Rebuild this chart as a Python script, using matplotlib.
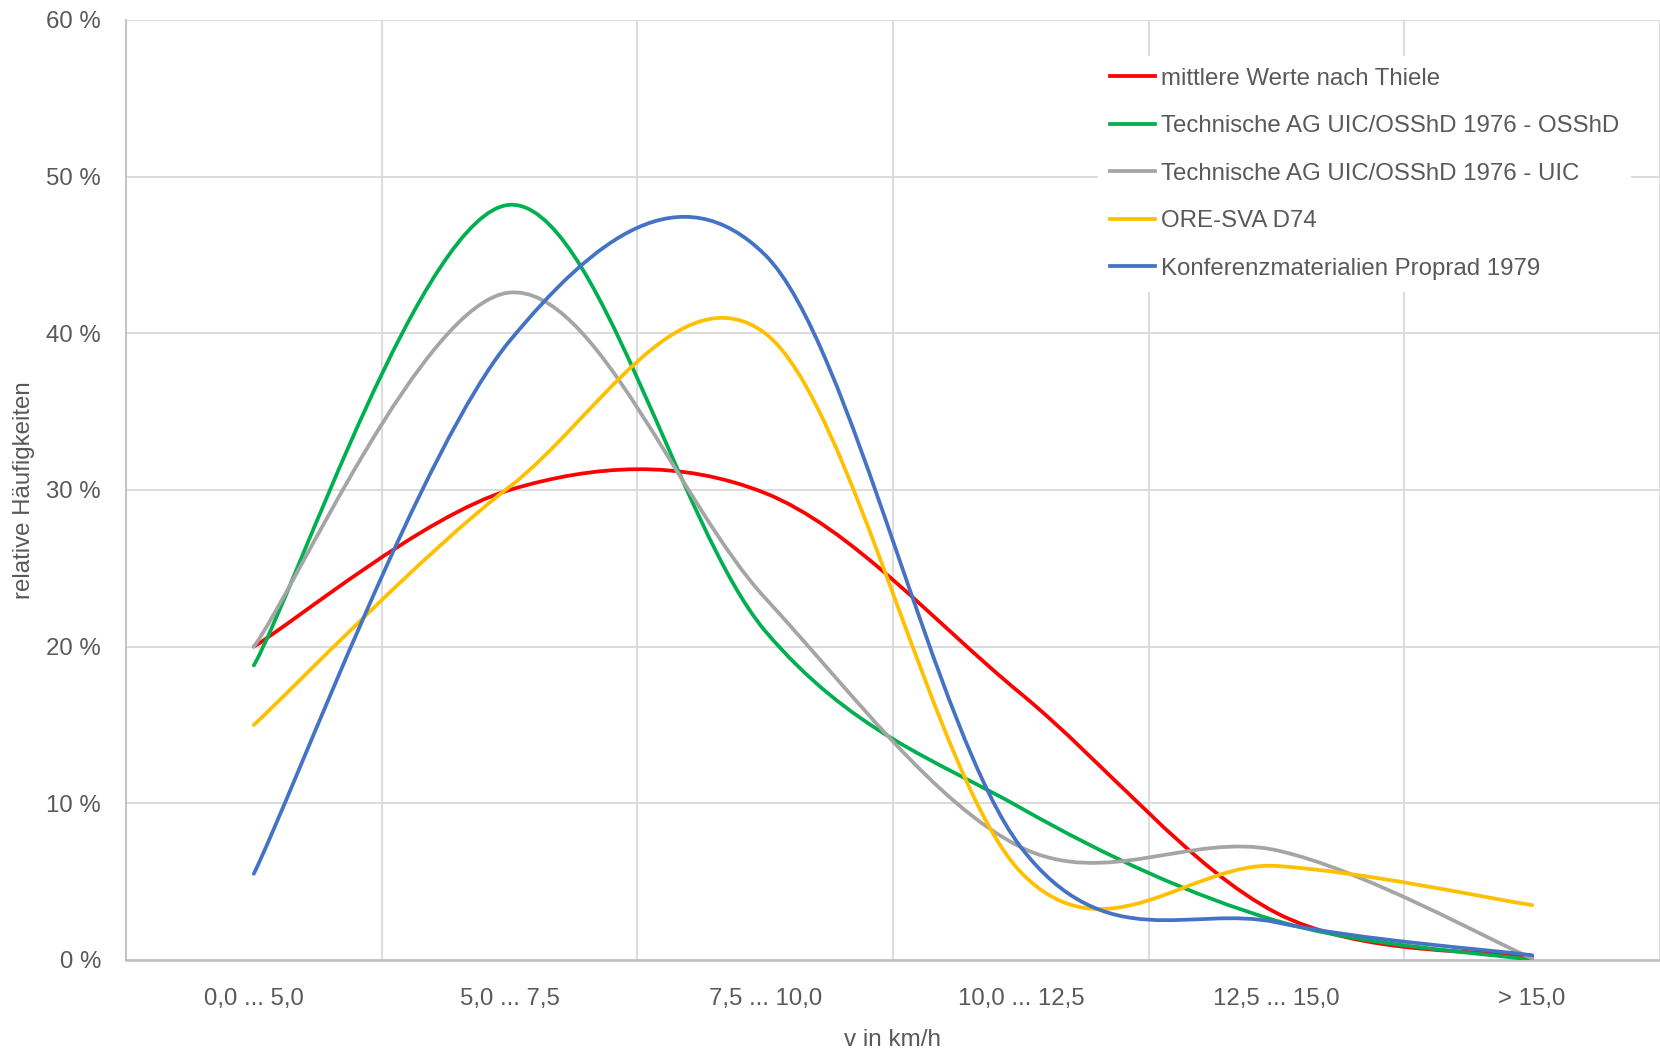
import numpy as np
import matplotlib
matplotlib.use("Agg")
import matplotlib.pyplot as plt
from matplotlib.path import Path
from matplotlib.patches import PathPatch
from matplotlib.lines import Line2D

# --- data (relative frequencies in %) ---
categories = ["0,0 ... 5,0", "5,0 ... 7,5", "7,5 ... 10,0", "10,0 ... 12,5", "12,5 ... 15,0", "> 15,0"]
series_names = [
    "mittlere Werte nach Thiele",
    "Technische AG UIC/OSShD 1976 - OSShD",
    "Technische AG UIC/OSShD 1976 - UIC",
    "ORE-SVA D74",
    "Konferenzmaterialien Proprad 1979",
]
thiele = [20.0, 30.0, 29.8, 17.0, 3.0, 0.2]
osshd = [18.8, 48.2, 21.0, 9.7, 2.5, 0.0]
uic = [20.0, 42.6, 23.1, 7.2, 7.0, 0.1]
ore = [15.0, 30.2, 40.0, 5.6, 6.0, 3.5]
proprad = [5.5, 39.5, 45.0, 7.2, 2.4, 0.3]
series_values = [thiele, osshd, uic, ore, proprad]
colors = ["#FF0000", "#00B050", "#A5A5A5", "#FFC000", "#4472C4"]

ytick_values = [0, 10, 20, 30, 40, 50, 60]
ytick_labels = ["0 %", "10 %", "20 %", "30 %", "40 %", "50 %", "60 %"]

text_color = "#595959"
grid_color = "#D9D9D9"
fs = 17.3
plt.rcParams['font.family'] = ['Liberation Sans', 'DejaVu Sans']


def smooth_path(x, y):
    # Excel-like smoothed line: cubic Bezier through points (Catmull-Rom, 1/6 tangents)
    pts = np.column_stack([x, y]).astype(float)
    n = len(pts)
    verts = [pts[0]]
    codes = [Path.MOVETO]
    for i in range(n - 1):
        p0 = pts[i - 1] if i > 0 else pts[i]
        p1 = pts[i]
        p2 = pts[i + 1]
        p3 = pts[i + 2] if i + 2 < n else pts[i + 1]
        c1 = p1 + (p2 - p0) / 6.0
        c2 = p2 - (p3 - p1) / 6.0
        verts += [c1, c2, p2]
        codes += [Path.CURVE4] * 3
    return Path(verts, codes)


fig = plt.figure(figsize=(16.6, 10.52), dpi=100)
ax = fig.add_axes([0.0759, 0.0875, 0.9241, 0.8935])

xpos = np.arange(len(categories))
for vals, col in zip(series_values, colors):
    patch = PathPatch(smooth_path(xpos, vals), facecolor="none", edgecolor=col,
                      lw=2.7, capstyle="round", joinstyle="round", zorder=3)
    ax.add_patch(patch)

ax.set_xlim(-0.5, len(categories) - 0.5)
ax.set_ylim(0, 60)
ax.set_xticks(xpos)
ax.set_xticklabels(categories)
ax.set_yticks(ytick_values)
ax.set_yticklabels(ytick_labels)

# vertical gridlines between categories (Excel style)
ax.set_xticks(np.arange(-0.5, len(categories) + 0.5, 1.0), minor=True)
ax.grid(True, which="minor", axis="x", color=grid_color, lw=1.3, zorder=0)
ax.grid(True, which="major", axis="y", color=grid_color, lw=1.3, zorder=0)
ax.set_axisbelow(True)

for s in ["top", "right"]:
    ax.spines[s].set_visible(False)
ax.spines["left"].set_color("#BFBFBF")
ax.spines["bottom"].set_color("#BFBFBF")
ax.spines["left"].set_linewidth(1.3)
ax.spines["bottom"].set_linewidth(1.8)

ax.tick_params(axis="both", which="both", length=0, colors=text_color, labelsize=fs)
ax.tick_params(axis="y", pad=18)
ax.tick_params(axis="x", pad=20)

ax.set_xlabel("v in km/h", fontsize=17.5, color=text_color, labelpad=14)
ax.set_ylabel("relative Häufigkeiten", fontsize=fs, color=text_color)
ax.yaxis.set_label_coords(-0.059, 0.5)

handles = [Line2D([], [], color=c, lw=2.7) for c in colors]
leg = ax.legend(handles, series_names, loc="upper left", bbox_to_anchor=(0.6615, 0.947),
                bbox_transform=fig.transFigure, frameon=True, fontsize=fs,
                handlelength=1.85, handletextpad=0.25, labelspacing=1.06,
                borderpad=0.5, borderaxespad=0)
leg.get_frame().set_facecolor("white")
leg.get_frame().set_edgecolor("none")
leg.get_frame().set_alpha(1)
for t in leg.get_texts():
    t.set_color(text_color)

fig.savefig("out.png", dpi=100)
